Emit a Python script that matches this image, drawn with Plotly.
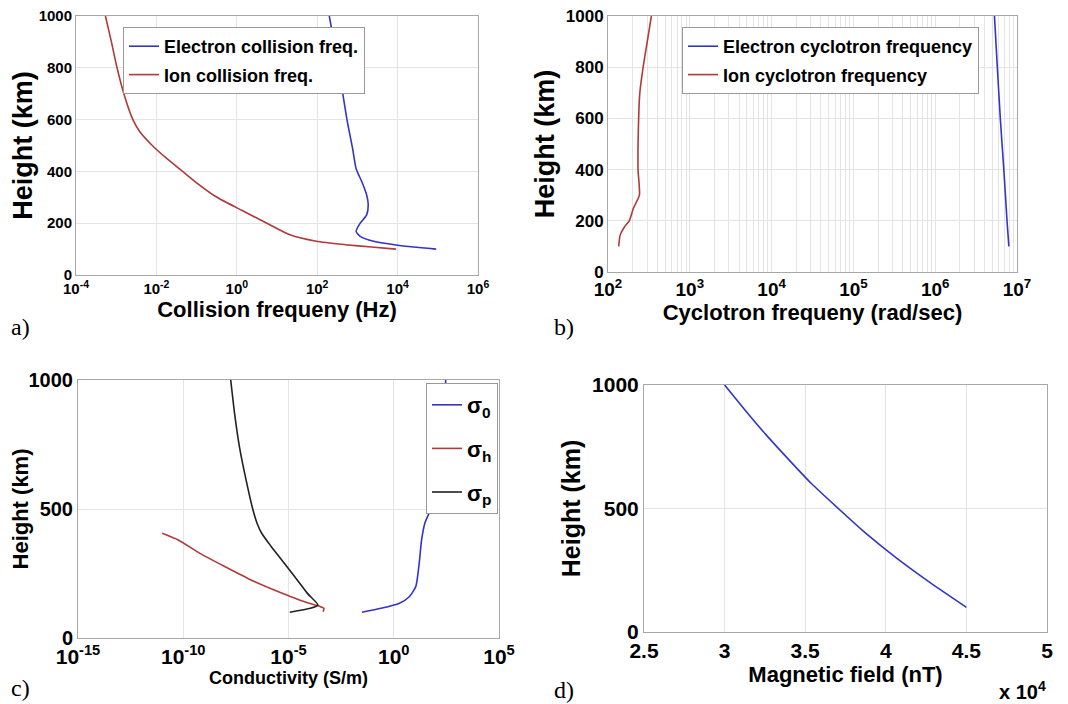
import plotly.graph_objects as go

# ---------------- data ----------------
# a) collision frequencies (Hz) vs height (km)
ion_coll_h = [1000, 900, 800, 700, 600, 550, 500, 450, 400, 350, 300, 250, 200, 155, 130, 117, 108, 100]
ion_coll = [5.4e-4, 7.6e-4, 1.05e-3, 1.55e-3, 2.6e-3, 4.0e-3, 7.9e-3, 1.8e-2, 4.5e-2, 0.112,
            0.32, 1.32, 5.6, 21, 95, 500, 2240, 9100]
elec_coll_h = [1000, 800, 600, 488, 410, 360, 309, 271, 232, 200, 168, 149, 129, 117, 108, 100]
elec_coll = [200, 340, 550, 760, 930, 1290, 1700, 1860, 1700, 1175, 930, 1175, 2700, 8300, 25000, 91000]

# b) cyclotron frequencies (rad/s)
ion_cyc_h = [1000, 900, 800, 700, 600, 400, 300, 250, 200, 175, 145, 100]
ion_cyc = [339, 302, 269, 245, 237, 233, 242, 205, 182, 158, 141, 135]
elec_cyc_h = [1000, 800, 600, 400, 200, 100]
elec_cyc = [5.3e6, 5.75e6, 6.25e6, 6.9e6, 7.55e6, 7.95e6]

# c) conductivities (S/m)
sig0_h = [1000, 870, 740, 610, 500, 445, 380, 290, 200, 160, 135, 115, 100]
sig0 = [295, 245, 190, 129, 57.5, 30, 21, 16.2, 11.2, 5.5, 1.86, 0.25, 0.031]
sigh_h = [406, 380, 328, 277, 225, 186, 160, 137, 124, 115, 102]
sigh = [1.0e-11, 5.8e-11, 6.2e-10, 9.3e-9, 1.66e-7, 2.1e-6, 1.3e-5, 7.9e-5, 2.8e-4, 4.8e-4, 4.4e-4]
sigp_h = [1000, 870, 740, 610, 500, 445, 405, 355, 290, 225, 173, 128, 115, 100]
sigp = [1.8e-8, 2.75e-8, 4.7e-8, 9.8e-8, 2.0e-7, 3.2e-7, 5.4e-7, 1.5e-6, 6.3e-6, 2.6e-5,
        7.9e-5, 2.5e-4, 1.1e-4, 1.15e-5]

# d) magnetic field (nT)
mag_h = [1000, 900, 800, 700, 600, 500, 400, 300, 200, 100]
mag_b = [30000, 31250, 32550, 33950, 35400, 37050, 38750, 40650, 42750, 45000]

# tick labels
a_xticks = [1e-4, 1e-2, 1e0, 1e2, 1e4, 1e6]
a_xtext = ["10<sup>-4</sup>", "10<sup>-2</sup>", "10<sup>0</sup>", "10<sup>2</sup>", "10<sup>4</sup>", "10<sup>6</sup>"]
b_xticks = [1e2, 1e3, 1e4, 1e5, 1e6, 1e7]
b_xtext = ["10<sup>2</sup>", "10<sup>3</sup>", "10<sup>4</sup>", "10<sup>5</sup>", "10<sup>6</sup>", "10<sup>7</sup>"]
b_minor = [m * 10 ** e for e in range(2, 7) for m in range(2, 10)]
c_xticks = [1e-15, 1e-10, 1e-5, 1e0, 1e5]
c_xtext = ["10<sup>-15</sup>", "10<sup>-10</sup>", "10<sup>-5</sup>", "10<sup>0</sup>", "10<sup>5</sup>"]
d_xticks = [25000, 30000, 35000, 40000, 45000, 50000]
d_xtext = ["2.5", "3", "3.5", "4", "4.5", "5"]
h_ticks_fine = [0, 200, 400, 600, 800, 1000]
h_ticks_coarse = [0, 500, 1000]

# ---------------- style ----------------
SANS = "Liberation Sans, Arial, sans-serif"
SERIF = "Liberation Serif, Times New Roman, serif"
BLUE = "#3434c8"
RED = "#b03a3a"
BLACK = "#222222"
GRID = "#e4e4e4"
FRAME = "#a8a8a8"
OFF = 8                      # page body margin
FW, FH = 1068 - OFF, 704 - OFF


def px(x):
    return (x - OFF) / FW


def py(y):
    return 1 - (y - OFF) / FH


def dom(x0, x1, y0, y1):
    return [px(x0), px(x1)], [py(y1), py(y0)]


fig = go.Figure()


def line(x, y, name, color, ax, leg, group):
    fig.add_trace(go.Scatter(
        x=x, y=y, name=name, mode="lines",
        line=dict(color=color, width=1.6, shape="spline", smoothing=0.6),
        xaxis="x" + ax, yaxis="y" + ax, legend=leg, legendgroup=group))


line(elec_coll, elec_coll_h, "Electron collision freq.", BLUE, "", "legend", "a1")
line(ion_coll, ion_coll_h, "Ion collision freq.", RED, "", "legend", "a2")
line(elec_cyc, elec_cyc_h, "Electron cyclotron frequency", BLUE, "2", "legend2", "b1")
line(ion_cyc, ion_cyc_h, "Ion cyclotron frequency", RED, "2", "legend2", "b2")
line(sig0, sig0_h, "σ<sub>0</sub>", BLUE, "3", "legend3", "c1")
line(sigh, sigh_h, "σ<sub>h</sub>", RED, "3", "legend3", "c2")
line(sigp, sigp_h, "σ<sub>p</sub>", BLACK, "3", "legend3", "c3")
fig.add_trace(go.Scatter(x=mag_b, y=mag_h, mode="lines", name="B",
                         line=dict(color=BLUE, width=1.6, shape="spline", smoothing=0.6),
                         xaxis="x4", yaxis="y4", showlegend=False))


def axis_common(**kw):
    d = dict(showline=True, mirror=True, linecolor=FRAME, linewidth=1,
             showgrid=True, gridcolor=GRID, gridwidth=1, zeroline=False,
             ticks="", automargin=False, ticklabeloverflow="allow")
    d.update(kw)
    return d


def bold(size, family=SANS):
    return dict(family=family, size=size, color="black", weight="bold")


xa, ya = dom(76, 478, 16, 275)
xb, yb = dom(608, 1017, 16, 272)
xc, yc = dom(78, 499, 380, 638)
xd, yd = dom(644, 1047, 385, 632)

fig.update_layout(
    width=FW, height=FH, margin=dict(l=0, r=0, t=0, b=0),
    paper_bgcolor="white", plot_bgcolor="white",
    xaxis=axis_common(domain=xa, anchor="y", type="log", range=[-4, 6],
                      tickmode="array", tickvals=a_xticks, ticktext=a_xtext,
                      tickfont=bold(15),
                      title=dict(text="Collision frequeny (Hz)", font=bold(22), standoff=4)),
    yaxis=axis_common(domain=ya, anchor="x", range=[0, 1000], tickmode="array",
                      tickvals=h_ticks_fine, tickfont=bold(15),
                      title=dict(text="Height (km)", font=bold(27), standoff=3)),
    xaxis2=axis_common(domain=xb, anchor="y2", type="log", range=[2, 7],
                       tickmode="array", tickvals=b_xticks, ticktext=b_xtext,
                       tickfont=bold(19),
                       minor=dict(tickmode="array", tickvals=b_minor, showgrid=True,
                                  gridcolor=GRID, ticks=""),
                       title=dict(text="Cyclotron frequeny (rad/sec)", font=bold(22), standoff=3)),
    yaxis2=axis_common(domain=yb, anchor="x2", range=[0, 1000], tickmode="array",
                       tickvals=h_ticks_fine, tickfont=bold(17),
                       title=dict(text="Height (km)", font=bold(27), standoff=3)),
    xaxis3=axis_common(domain=xc, anchor="y3", type="log", range=[-15, 5],
                       tickmode="array", tickvals=c_xticks, ticktext=c_xtext,
                       tickfont=bold(21),
                       title=dict(text="Conductivity (S/m)", font=bold(18), standoff=2)),
    yaxis3=axis_common(domain=yc, anchor="x3", range=[0, 1000], tickmode="array",
                       tickvals=h_ticks_coarse, tickfont=bold(20),
                       title=dict(text="Height (km)", font=bold(22), standoff=3)),
    xaxis4=axis_common(domain=xd, anchor="y4", range=[25000, 50000],
                       tickmode="array", tickvals=d_xticks, ticktext=d_xtext,
                       tickfont=bold(21),
                       title=dict(text="Magnetic field (nT)", font=bold(22), standoff=2)),
    yaxis4=axis_common(domain=yd, anchor="x4", range=[0, 1000], tickmode="array",
                       tickvals=h_ticks_coarse, tickfont=bold(21),
                       title=dict(text="Height (km)", font=bold(25), standoff=4)),
    legend=dict(x=px(123), y=py(27), xanchor="left", yanchor="top",
                bgcolor="white", bordercolor="#999999", borderwidth=1,
                font=bold(18), tracegroupgap=2),
    legend2=dict(x=px(682), y=py(27), xanchor="left", yanchor="top",
                 bgcolor="white", bordercolor="#999999", borderwidth=1,
                 font=bold(18), tracegroupgap=2),
    legend3=dict(x=px(498), y=py(383), xanchor="right", yanchor="top",
                 bgcolor="white", bordercolor="#999999", borderwidth=1,
                 font=bold(22), tracegroupgap=12),
    showlegend=True,
)

# panel labels and exponent note
for txt, lx, ly in [("a)", 20, 327), ("b)", 564, 327), ("c)", 20, 688), ("d)", 564, 690)]:
    fig.add_annotation(text=txt, x=px(lx), y=py(ly), xref="paper", yref="paper",
                       showarrow=False, xanchor="center", yanchor="middle",
                       font=dict(family=SERIF, size=24, color="black"))
fig.add_annotation(text="x 10<sup>4</sup>", x=px(1048), y=py(690), xref="paper", yref="paper",
                   showarrow=False, xanchor="right", yanchor="middle", font=bold(20))

fig.write_html("out.html")
